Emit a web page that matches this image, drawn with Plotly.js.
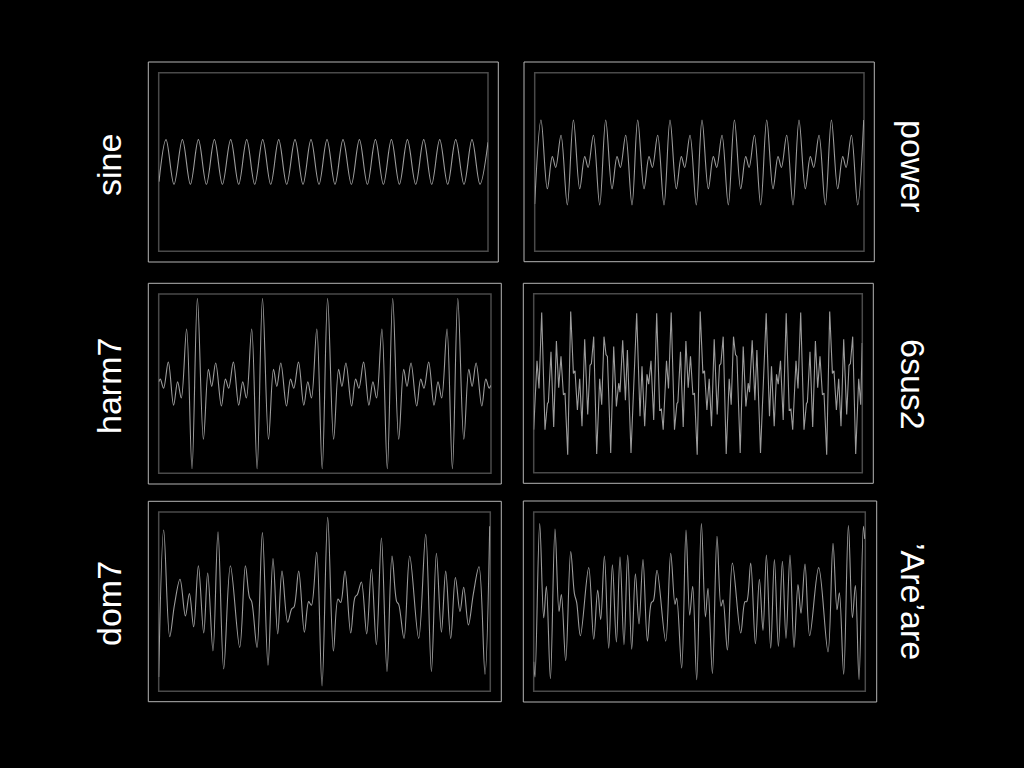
<!DOCTYPE html>
<html><head><meta charset="utf-8">
<script src="https://cdn.plot.ly/plotly-3.0.1.min.js"></script>
<style>html,body{margin:0;padding:0;background:#000;}#chart{width:1024px;height:768px;}</style>
</head><body><div id="chart"></div>
<script>
// Panel names (labels)
const panelNames = ['sine', 'power', 'harm7', '6sus2', 'dom7', '\u2019Are\u2019are'];

// Waveforms: x = time offset (px units of the trace window), y = normalized amplitude
const sineX = [0.3, 7.3, 15.3, 23.7, 31.7, 39.7, 47.7, 55.7, 63.7, 72.0, 80.0, 88.0, 96.0, 104.0, 112.0, 120.0, 128.0, 136.3, 144.3, 152.3, 160.3, 168.3, 176.3, 184.3, 192.7, 200.7, 208.7, 216.7, 224.7, 232.7, 240.7, 248.7, 257.0, 265.0, 273.0, 281.0, 289.0, 297.0, 305.3, 313.3, 321.3, 329.3];
const sineY = [-0.22, 0.25, -0.25, 0.25, -0.25, 0.25, -0.25, 0.25, -0.25, 0.25, -0.25, 0.25, -0.25, 0.25, -0.25, 0.25, -0.25, 0.25, -0.25, 0.25, -0.25, 0.25, -0.25, 0.25, -0.25, 0.25, -0.25, 0.25, -0.25, 0.25, -0.25, 0.25, -0.25, 0.25, -0.25, 0.25, -0.25, 0.25, -0.25, 0.25, -0.25, 0.22];

const powerX = [0, 6.3, 12.6, 17.6, 21.0, 26.3, 32.6, 38.7, 45.0, 50.0, 53.4, 58.7, 65.0, 71.0, 77.3, 82.3, 85.7, 91.0, 97.3, 103.0, 109.3, 114.3, 117.7, 123.0, 129.3, 135.3, 141.6, 146.6, 150.0, 155.3, 161.6, 167.3, 173.6, 178.6, 182.0, 187.3, 193.6, 199.7, 206.0, 211.0, 214.4, 219.7, 226.0, 232.0, 238.3, 243.3, 246.7, 252.0, 258.3, 264.3, 270.6, 275.6, 279.0, 284.3, 290.6, 296.7, 303.0, 308.0, 311.4, 316.7, 323.0, 329.0];
const powerY = [-0.47,
  0.47, -0.30, 0.06, -0.06, 0.30, -0.48,
  0.47, -0.30, 0.06, -0.06, 0.30, -0.48,
  0.47, -0.30, 0.06, -0.06, 0.30, -0.48,
  0.47, -0.30, 0.06, -0.06, 0.30, -0.48,
  0.47, -0.30, 0.06, -0.06, 0.30, -0.48,
  0.47, -0.30, 0.06, -0.06, 0.30, -0.48,
  0.47, -0.30, 0.06, -0.06, 0.30, -0.48,
  0.47, -0.30, 0.06, -0.06, 0.30, -0.48,
  0.47, -0.30, 0.06, -0.06, 0.30, -0.48,
  0.47, -0.30, 0.06, -0.06, 0.30, -0.48,
  0.47];

const harmX = [0, 1.6, 4.9, 9.6, 14.9, 18.9, 22.6, 27.9, 33.3,
  38.7, 44.7, 49.7, 53.0, 57.0, 62.7, 66.7, 70.0, 74.7, 80.0, 84.0, 87.7, 93.0, 98.4,
  103.8, 109.8, 114.8, 118.1, 122.1, 127.8, 131.8, 135.1, 139.8, 145.1, 149.1, 152.8, 158.1, 163.5,
  168.9, 174.9, 179.9, 183.2, 187.2, 192.9, 196.9, 200.2, 204.9, 210.2, 214.2, 217.9, 223.2, 228.6,
  234.0, 240.0, 245.0, 248.3, 252.3, 258.0, 262.0, 265.3, 270.0, 275.3, 279.3, 283.0, 288.3, 293.7,
  299.1, 305.1, 310.1, 313.4, 317.4, 323.1, 327.1, 330.4, 332.0];
const harmY = [0.02, 0.05, -0.05, 0.24, -0.24, 0.02, -0.16, 0.61, -0.95,
  0.95, -0.62, 0.16, -0.03, 0.23, -0.25, 0.05, -0.05, 0.24, -0.24, 0.02, -0.16, 0.61, -0.95,
  0.95, -0.62, 0.16, -0.03, 0.23, -0.25, 0.05, -0.05, 0.24, -0.24, 0.02, -0.16, 0.61, -0.95,
  0.95, -0.62, 0.16, -0.03, 0.23, -0.25, 0.05, -0.05, 0.24, -0.24, 0.02, -0.16, 0.61, -0.95,
  0.95, -0.62, 0.16, -0.03, 0.23, -0.25, 0.05, -0.05, 0.24, -0.24, 0.02, -0.16, 0.61, -0.95,
  0.95, -0.62, 0.16, -0.03, 0.23, -0.25, 0.05, -0.05, -0.02];

const susX = [0, 3.3, 5.3, 8.0, 11.3, 13.7, 14.7, 17.3, 20.0, 22.7, 25.0, 27.3, 29.7, 31.3, 34.0, 37.0, 39.7, 41.3, 43.7, 46.0, 48.3, 51.0, 54.0, 56.3, 57.7, 60.0, 63.0, 66.0, 68.0, 70.3, 72.3, 73.7, 77.0, 80.0, 82.7, 85.0, 86.3, 89.0, 91.7, 93.7, 97.3, 103.0, 106.3, 108.3, 111.0, 113.3, 115.0, 117.3, 120.0, 123.0, 126.0, 127.7,
  129.5, 132.8, 134.8, 137.5, 140.8, 143.2, 144.2, 146.8, 149.5, 152.2, 154.5, 156.8, 159.2, 160.8, 163.5, 166.5, 169.2, 170.8, 173.2, 175.5, 177.8, 180.5, 183.5, 185.8, 187.2, 189.5, 192.5, 195.5, 197.5, 199.8, 201.8, 203.2, 206.5, 209.5, 212.2, 214.5, 215.8, 218.5, 221.2, 223.2, 226.8, 232.5, 235.8, 237.8, 240.5, 242.8, 244.5, 246.8, 249.5, 252.5, 255.5, 257.2,
  259.0, 262.3, 264.3, 267.0, 270.3, 272.7, 273.7, 276.3, 279.0, 281.7, 284.0, 286.3, 288.7, 290.3, 293.0, 296.0, 298.7, 300.3, 302.7, 305.0, 307.3, 310.0, 313.0, 315.3, 316.7, 319.0, 322.0, 325.0, 327.0, 328.5];
const susY = [-0.52, 0.25, -0.06, 0.79, -0.52, -0.23, -0.21, 0.35, -0.49, 0.47, -0.05, 0.30, -0.13, -0.11, -0.80, 0.80, 0.11, 0.14, -0.30, 0.05, -0.48, 0.49, -0.35, 0.20, 0.22, 0.52, -0.79, 0.05, -0.24, 0.52, 0.32, 0.30, -0.78, 0.41, -0.26, 0.00, -0.10, 0.48, -0.19, 0.37, -0.78, 0.78, -0.37, 0.19, -0.48, 0.10, -0.01, 0.25, -0.41, 0.78, -0.30, -0.29,
  -0.52, 0.25, -0.06, 0.79, -0.52, -0.23, -0.21, 0.35, -0.49, 0.47, -0.05, 0.30, -0.13, -0.11, -0.80, 0.80, 0.11, 0.14, -0.30, 0.05, -0.48, 0.49, -0.35, 0.20, 0.22, 0.52, -0.79, 0.05, -0.24, 0.52, 0.32, 0.30, -0.78, 0.41, -0.26, 0.00, -0.10, 0.48, -0.19, 0.37, -0.78, 0.78, -0.37, 0.19, -0.48, 0.10, -0.01, 0.25, -0.41, 0.78, -0.30, -0.29,
  -0.52, 0.25, -0.06, 0.79, -0.52, -0.23, -0.21, 0.35, -0.49, 0.47, -0.05, 0.30, -0.13, -0.11, -0.80, 0.80, 0.11, 0.14, -0.30, 0.05, -0.48, 0.49, -0.35, 0.20, 0.22, 0.52, -0.79, 0.05, -0.24, 0.45];

const domX = [0, 5.0, 11.0, 15.7, 21.3, 26.7, 30.7, 35.0, 39.7, 45.0, 49.0, 54.3, 59.3, 65.0, 71.7, 81.0, 86.7, 90.7, 93.0, 98.3, 103.7, 109.3, 114.3, 119.0, 123.3, 129.0, 133.0, 135.3, 140.0, 145.7, 150.0, 152.7, 158.0, 163.3, 169.0, 174.7, 179.3, 182.0, 186.3, 192.0, 196.3, 198.7, 202.7, 208.0, 212.7, 217.7, 222.7, 228.3, 233.3, 238.0, 240.0, 245.3, 251.0, 260.0, 267.0, 272.7, 277.7, 282.7, 287.0, 292.0, 296.7, 301.3, 305.0, 309.7, 314.7, 320.3, 326.3, 331.0];
const domY = [-0.84, 0.80, -0.39, -0.04, 0.25, -0.16, 0.09, -0.28, 0.40, -0.35, 0.32, -0.55, 0.78, -0.75, 0.40, -0.51, 0.40, 0.05, 0.00, -0.51, 0.77, -0.71, 0.48, -0.36, 0.34, -0.23, -0.08, -0.06, 0.34, -0.34, 0.00, -0.04, 0.55, -0.94, 0.94, -0.55, 0.03, -0.01, 0.34, -0.35, 0.05, 0.08, 0.22, -0.36, 0.36, -0.48, 0.71, -0.78, 0.51, 0.00, -0.03, -0.41, 0.51, -0.41, 0.75, -0.78, 0.54, -0.34, 0.34, -0.41, 0.27, -0.11, 0.16, -0.26, 0.09, 0.39, -0.81, 0.84];

const areX = [0, 1.3, 6.0, 10.0, 12.7, 16.7, 21.3, 25.3, 27.7, 32.0, 37.0, 40.7, 43.0, 46.7, 55.0, 60.0, 64.0, 67.0, 70.7, 75.0, 78.7, 82.7, 86.3, 90.3, 94.0, 98.0, 101.7, 105.3, 109.3, 113.7, 117.7, 119.7, 123.3, 132.0, 137.0, 141.3, 143.0, 148.0, 152.3, 156.0, 159.0, 163.0, 167.7, 171.7, 174.3, 178.7, 183.3, 187.3, 189.3, 193.7, 198.7, 207.0, 211.3, 213.0, 217.0, 221.7, 225.7, 229.3, 232.7, 237.0, 240.7, 244.7, 248.7, 252.3, 256.3, 260.3, 264.3, 267.3, 271.3, 276.0, 285.0, 294.3, 299.3, 303.3, 305.7, 310.0, 314.7, 318.7, 321.7, 325.3, 329.7, 331.0];
const areY = [-0.67, -0.84, 0.87, -0.18, 0.17, -0.86, 0.81, -0.11, 0.08, -0.66, 0.56, 0.09, -0.01, -0.38, 0.38, -0.42, 0.13, -0.20, 0.51, -0.52, 0.41, -0.45, 0.50, -0.48, 0.52, -0.53, 0.31, -0.25, 0.47, -0.44, -0.01, 0.01, 0.35, -0.44, 0.54, -0.03, 0.04, -0.74, 0.80, -0.15, 0.17, -0.87, 0.87, -0.17, 0.15, -0.80, 0.73, -0.05, 0.02, -0.54, 0.43, -0.35, 0.00, 0.00, 0.43, -0.47, 0.25, -0.32, 0.52, -0.52, 0.47, -0.50, 0.45, -0.41, 0.52, -0.51, 0.19, -0.13, 0.42, -0.38, 0.38, -0.56, 0.65, -0.09, 0.10, -0.81, 0.85, -0.18, 0.18, -0.87, 0.84, 0.70];

// ---- layout geometry (pixels) ----
const W = 1024, H = 768;
const fx = v => v / W, fy = v => 1 - v / H;
const panels = [
  {x: sineX,  y: sineY,  shape: 'spline', inner: [158.7, 72.7, 488.0, 251.3], outer: [148.3, 62.0, 498.3, 262.0], label: [109, 165], angle: -90},
  {x: powerX, y: powerY, shape: 'spline', inner: [534.7, 72.7, 864.0, 251.3], outer: [524.0, 62.0, 874.3, 261.7], label: [913, 166], angle: 90},
  {x: harmX,  y: harmY,  shape: 'spline', inner: [158.7, 294.0, 491.0, 473.3], outer: [148.3, 283.3, 501.3, 484.0], label: [109, 386], angle: -90},
  {x: susX,   y: susY,   shape: 'linear', inner: [533.7, 293.7, 862.3, 472.7], outer: [523.3, 283.3, 873.3, 483.3], label: [913, 384], angle: 90},
  {x: domX,   y: domY,   shape: 'spline', inner: [158.7, 512.0, 490.3, 691.3], outer: [148.3, 501.3, 501.3, 701.7], label: [109, 604], angle: -90},
  {x: areX,   y: areY,   shape: 'spline', inner: [533.7, 512.0, 865.3, 691.3], outer: [523.3, 501.0, 876.7, 702.0], label: [913, 601], angle: 90}
];

const traces = [], shapes = [], annotations = [];
const layout = {
  width: W, height: H,
  margin: {l: 0, r: 0, t: 0, b: 0},
  paper_bgcolor: '#000', plot_bgcolor: 'rgba(0,0,0,0)',
  showlegend: false
};
panels.forEach((p, i) => {
  const n = i === 0 ? '' : String(i + 1);
  const [l, t, r, b] = p.inner;
  traces.push({
    type: 'scatter', mode: 'lines', x: p.x, y: p.y,
    xaxis: 'x' + n, yaxis: 'y' + n,
    line: {color: '#9c9c9c', width: 1.1, shape: p.shape, smoothing: 1},
    hoverinfo: 'skip'
  });
  layout['xaxis' + n] = {domain: [fx(l), fx(r)], range: [0, r - l], visible: false, fixedrange: true, anchor: 'y' + n};
  layout['yaxis' + n] = {domain: [fy(b), fy(t)], range: [-1, 1], visible: false, fixedrange: true, anchor: 'x' + n};
  const [ol, ot, or, ob] = p.outer;
  shapes.push({type: 'rect', xref: 'paper', yref: 'paper', x0: fx(ol), x1: fx(or), y0: fy(ob), y1: fy(ot),
    line: {color: '#b4b4b4', width: 1}, layer: 'below'});
  shapes.push({type: 'rect', xref: 'paper', yref: 'paper', x0: fx(l), x1: fx(r), y0: fy(b), y1: fy(t),
    line: {color: '#4a4a4a', width: 1.5}, layer: 'below'});
  annotations.push({
    text: panelNames[i], xref: 'paper', yref: 'paper', x: fx(p.label[0]), y: fy(p.label[1]),
    xanchor: 'center', yanchor: 'middle', showarrow: false, textangle: p.angle,
    font: {family: 'Liberation Sans, Arial, sans-serif', size: 34, color: '#ffffff'}
  });
});
layout.shapes = shapes;
layout.annotations = annotations;
Plotly.newPlot('chart', traces, layout, {displayModeBar: false, staticPlot: true});
</script>
</body></html>
